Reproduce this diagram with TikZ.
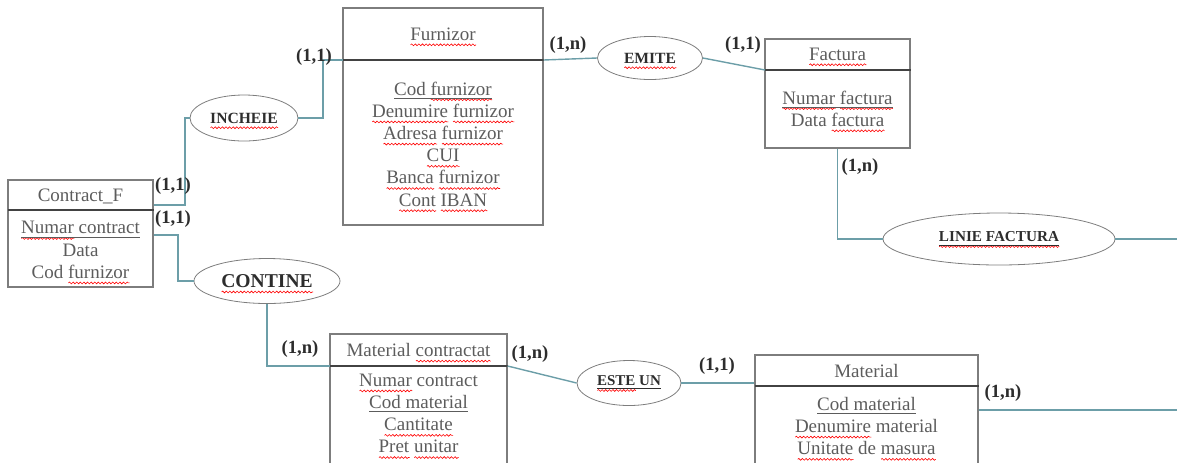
\documentclass[tikz,border=0pt]{standalone}
\usepackage{fontspec}
\setmainfont{Liberation Serif}
\usepackage{tkz-euclide}
\usetikzlibrary{shapes.geometric,decorations.pathmorphing}

\definecolor{linkc}{RGB}{108,158,168}
\definecolor{boxc}{RGB}{125,125,125}
\definecolor{txtc}{RGB}{92,92,92}
\definecolor{relc}{RGB}{45,45,45}

\newsavebox\sqbox
\newlength\sqw
\newcommand\sq[1]{\sbox\sqbox{#1}\setlength\sqw{\wd\sqbox}%
  \rlap{\smash{\tikz[baseline=0pt]\draw[red,line width=0.3pt,decorate,
    decoration={snake,amplitude=0.45pt,segment length=1.8pt}] (0pt,-2.3pt) -- (\sqw,-2.3pt);}}%
  \usebox\sqbox}
\newcommand\ul[1]{\raisebox{0pt}[\height][2.2pt]{\underline{#1}}}

\tikzset{
  entity/.style={draw=boxc,line width=0.6pt,inner sep=0pt},
  title/.style={text=txtc,font=\fontsize{9.5}{11}\selectfont,inner sep=0pt},
  attrs/.style={text=txtc,align=center,font=\fontsize{9.5}{11.1}\selectfont,inner sep=0pt},
  rel/.style={draw=boxc,ellipse,inner sep=0pt,text=relc,font=\bfseries\fontsize{7.8}{9}\selectfont},
  card/.style={text=relc,font=\bfseries\fontsize{9.3}{11}\selectfont,inner sep=0pt},
  link/.style={draw=linkc,line width=0.7pt},
  split/.style={draw=relc!90,line width=0.9pt}
}

\begin{document}
\begin{tikzpicture}[x=0.5pt,y=-0.5pt]
                    \clip (0,0) rectangle (1177,462);
                    \tkzDefPoints{8/210/dc,343/60/df,765/70/dfa,330/366/dm,755/386/dma}
                    \tkzDefPoints{185/205/b1,323/60/b2,178/235/b3,1180/410/e1,1180/239/e2}
                    % entitati
                    \node[entity,minimum width=72.5pt,minimum height=53.5pt] (contr) at (80.5,233.5) {};
                    \node[entity,minimum width=100pt,minimum height=108.5pt] (furn) at (443,116.5) {};
                    \node[entity,minimum width=72.5pt,minimum height=54.5pt] (fact) at (837.5,93.5) {};
                    \node[entity,minimum width=88.5pt,minimum height=68pt] (mc) at (418.5,402) {};
                    \node[entity,minimum width=111.5pt,minimum height=60pt] (mat) at (866.5,415) {};
                    \draw[split] (dc) -- (dc -| contr.east);
                    \draw[split] (df) -- (df -| furn.east);
                    \draw[split] (dfa) -- (dfa -| fact.east);
                    \draw[split] (dm) -- (dm -| mc.east);
                    \draw[split] (dma) -- (dma -| mat.east);
                    \node[title] (contr-t) at (80.5,196) {Contract\_F};
                    \node[attrs] (contr-a) at (80.5,250) {\ul{\sq{Numar} contract}\\Data\\Cod \sq{furnizor}};
                    \node[title] (furn-t) at (443,34) {\sq{Furnizor}};
                    \node[attrs] (furn-a) at (443,144) {\ul{Cod \sq{furnizor}}\\\sq{Denumire} \sq{furnizor}\\\sq{Adresa} \sq{furnizor}\\\sq{CUI}\\\sq{Banca} \sq{furnizor}\\\sq{Cont} \sq{IBAN}};
                    \node[title] (fact-t) at (837.5,54) {\sq{Factura}};
                    \node[attrs] (fact-a) at (837.5,108.5) {\ul{\sq{Numar} \sq{factura}}\\Data \sq{factura}};
                    \node[title] (mc-t) at (418.5,350) {Material \sq{contractat}};
                    \node[attrs] (mc-a) at (418.5,413.5) {\sq{Numar} contract\\\ul{Cod material}\\\sq{Cantitate}\\\sq{Pret} \sq{unitar}};
                    \node[title] (mat-t) at (866.5,371) {Material};
                    \node[attrs] (mat-a) at (866.5,426) {\ul{Cod material}\\\sq{Denumire} material\\\sq{Unitate} de \sq{masura}};
                    % relatii
                    \node[rel,minimum width=54pt,minimum height=23pt] (inch) at (244,118) {\sq{INCHEIE}};
                    \node[rel,minimum width=52.5pt,minimum height=21.5pt] (emite) at (650,58) {\sq{EMITE}};
                    \node[rel,minimum width=73pt,minimum height=22.5pt,font=\bfseries\fontsize{9.8}{11}\selectfont] (cont) at (267,281) {\sq{CONTINE}};
                    \node[rel,minimum width=52pt,minimum height=22.5pt,font=\bfseries\fontsize{7.5}{9}\selectfont] (este) at (629,383) {\underline{\sq{ESTE} UN}};
                    \node[rel,minimum width=116pt,minimum height=26pt,font=\bfseries\fontsize{7.6}{9}\selectfont] (linie) at (999,239) {\underline{\sq{LINIE FACTURA}}};
                    % legaturi
                    \draw[link] (b1 -| contr.east) -- (b1) |- (inch.west);
                    \draw[link] (inch.east) -| (b2) -- (df);
                    \draw[link] (b3 -| contr.east) -- (b3) |- (cont.west);
                    \draw[link] (cont.south) |- (dm);
                    \draw[link] (dm -| mc.east) -- (este.west);
                    \draw[link] (este.east) -- (este.east -| mat.west);
                    \draw[link] (e1 -| mat.east) -- (e1);
                    \draw[link] (df -| furn.east) -- (emite.west);
                    \draw[link] (emite.east) -- (dfa);
                    \draw[link] (fact.south) |- (linie.west);
                    \draw[link] (linie.east) -- (e2);
                    % cardinalitati
                    \node[card] (k1) at (173,186) {(1,1)};
                    \node[card] (k2) at (173,219) {(1,1)};
                    \node[card] (k3) at (314,57) {(1,1)};
                    \node[card] (k4) at (568,45) {(1,n)};
                    \node[card] (k5) at (743,45) {(1,1)};
                    \node[card] (k6) at (860,167) {(1,n)};
                    \node[card] (k7) at (300,349) {(1,n)};
                    \node[card] (k8) at (530,354) {(1,n)};
                    \node[card] (k9) at (717,366) {(1,1)};
                    \node[card] (k10) at (1003,393) {(1,n)};
                \end{tikzpicture}
\end{document}
